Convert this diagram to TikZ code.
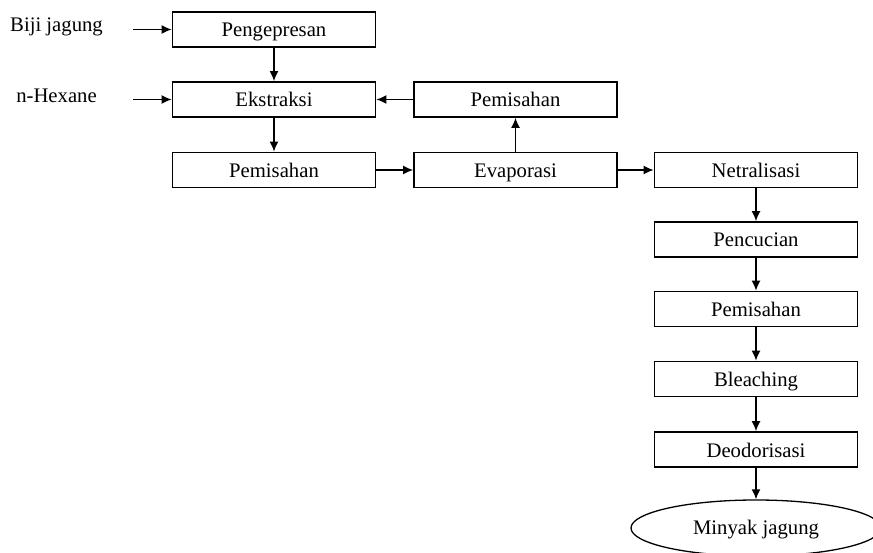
\documentclass[tikz,border=0pt]{standalone}
\usepackage{fontspec}
\setmainfont{Liberation Serif}
\usetikzlibrary{arrows.meta,shapes.geometric}
\begin{document}
\begin{tikzpicture}[x=1pt,y=-1pt,
  font=\fontsize{20.7}{24}\selectfont,
  box/.style={draw,line width=1.6pt,minimum width=203pt,minimum height=35pt,inner sep=0pt,text height=19pt,text depth=4pt},
  endbox/.style={draw,ellipse,line width=1.3pt,minimum width=250pt,minimum height=56pt,inner sep=0pt,text height=16pt,text depth=4pt},
  lbl/.style={anchor=base,inner sep=0pt},
  flow/.style={line width=1.6pt,-{Latex[length=10pt,width=9pt]}}]
\useasboundingbox (0,0) rectangle (873,553);
\begin{scope}
\clip (0,0) rectangle (873,553);
\node[box] (peng) at (274,29.5) {Pengepresan};
\node[box] (eks) at (274,99.5) {Ekstraksi};
\node[box] (pem1) at (274,170) {Pemisahan};
\node[box] (pem2) at (515.5,99.5) {Pemisahan};
\node[box] (evap) at (515.5,170) {Evaporasi};
\node[box] (net) at (756,170) {Netralisasi};
\node[box] (pen) at (756,239.5) {Pencucian};
\node[box] (pem3) at (756,309) {Pemisahan};
\node[box] (ble) at (756,379) {Bleaching};
\node[box] (deo) at (756,449.5) {Deodorisasi};
\node[endbox] (min) at (756,528) {Minyak jagung};
\node[lbl] (biji) at (56.5,32) {Biji jagung};
\node[lbl] (hex) at (56.5,103) {n-Hexane};
\coordinate (in1) at (133,29.5);
\coordinate (in2) at (133,99.5);
\draw[flow] (in1) -- (peng.west);
\draw[flow] (in2) -- (eks.west);
\draw[flow] (peng) -- (eks);
\draw[flow] (eks) -- (pem1);
\draw[flow] (pem1.east) -- (evap.west);
\draw[flow] (evap) -- (pem2);
\draw[flow] (pem2) -- (eks);
\draw[flow] (evap.east) -- (net.west);
\draw[flow] (net) -- (pen);
\draw[flow] (pen) -- (pem3);
\draw[flow] (pem3) -- (ble);
\draw[flow] (ble) -- (deo);
\draw[flow] (deo.south) -- (min.north);
\end{scope}
\end{tikzpicture}
\end{document}
